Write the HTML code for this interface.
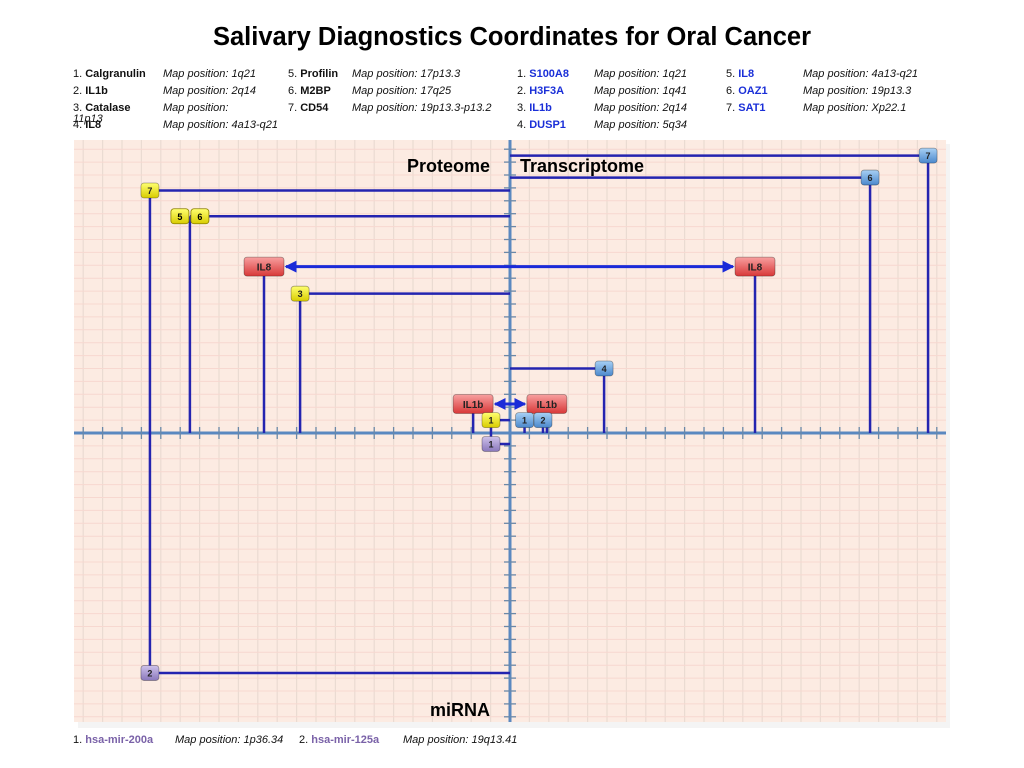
<!DOCTYPE html>
<html><head><meta charset="utf-8"><style>
body{margin:0;background:#fff;width:1024px;height:768px;overflow:hidden;font-family:"Liberation Sans",sans-serif;}
.t{position:absolute;font-size:11px;color:#111;white-space:nowrap;}
.i{font-style:italic;}
.b{font-weight:bold;}
.bl{color:#1a2fd8;font-weight:bold;}
.pu{color:#7a62a8;font-weight:bold;}
</style></head><body>
<div style="position:absolute;left:0;width:1024px;top:23px;text-align:center;font-size:25.5px;font-weight:bold;">Salivary Diagnostics Coordinates for Oral Cancer</div>
<div>
<div class="t" style="left:73px;top:68px">1. <span class="b">Calgranulin</span></div><div class="t i" style="left:163px;top:68px">Map position: 1q21</div>
<div class="t" style="left:73px;top:85px">2. <span class="b">IL1b</span></div><div class="t i" style="left:163px;top:85px">Map position: 2q14</div>
<div class="t" style="left:73px;top:102px">3. <span class="b">Catalase</span></div><div class="t i" style="left:163px;top:102px">Map position:</div>
<div class="t i" style="left:73px;top:113px">11p13</div>
<div class="t" style="left:73px;top:119px">4. <span class="b">IL8</span></div><div class="t i" style="left:163px;top:119px">Map position: 4a13-q21</div>
<div class="t" style="left:288px;top:68px">5. <span class="b">Profilin</span></div><div class="t i" style="left:352px;top:68px">Map position: 17p13.3</div>
<div class="t" style="left:288px;top:85px">6. <span class="b">M2BP</span></div><div class="t i" style="left:352px;top:85px">Map position: 17q25</div>
<div class="t" style="left:288px;top:102px">7. <span class="b">CD54</span></div><div class="t i" style="left:352px;top:102px">Map position: 19p13.3-p13.2</div>
</div>
<div>
<div class="t" style="left:517px;top:68px">1. <span class="bl">S100A8</span></div><div class="t i" style="left:594px;top:68px">Map position: 1q21</div>
<div class="t" style="left:517px;top:85px">2. <span class="bl">H3F3A</span></div><div class="t i" style="left:594px;top:85px">Map position: 1q41</div>
<div class="t" style="left:517px;top:102px">3. <span class="bl">IL1b</span></div><div class="t i" style="left:594px;top:102px">Map position: 2q14</div>
<div class="t" style="left:517px;top:119px">4. <span class="bl">DUSP1</span></div><div class="t i" style="left:594px;top:119px">Map position: 5q34</div>
<div class="t" style="left:726px;top:68px">5. <span class="bl">IL8</span></div><div class="t i" style="left:803px;top:68px">Map position: 4a13-q21</div>
<div class="t" style="left:726px;top:85px">6. <span class="bl">OAZ1</span></div><div class="t i" style="left:803px;top:85px">Map position: 19p13.3</div>
<div class="t" style="left:726px;top:102px">7. <span class="bl">SAT1</span></div><div class="t i" style="left:803px;top:102px">Map position: Xp22.1</div>
</div>
<div>
<div class="t" style="left:73px;top:734px">1. <span class="pu">hsa-mir-200a</span></div><div class="t i" style="left:175px;top:734px">Map position: 1p36.34</div>
<div class="t" style="left:299px;top:734px">2. <span class="pu">hsa-mir-125a</span></div><div class="t i" style="left:403px;top:734px">Map position: 19q13.41</div>
</div>
<svg id="chart" width="1024" height="768" style="position:absolute;left:0;top:0" xmlns="http://www.w3.org/2000/svg">
<defs>
<linearGradient id="gy" x1="0" y1="0" x2="0" y2="1"><stop offset="0" stop-color="#ffff70"/><stop offset="1" stop-color="#d8cc00"/></linearGradient>
<linearGradient id="gb" x1="0" y1="0" x2="0" y2="1"><stop offset="0" stop-color="#a8d0f4"/><stop offset="1" stop-color="#4a88cc"/></linearGradient>
<linearGradient id="gr" x1="0" y1="0" x2="0" y2="1"><stop offset="0" stop-color="#f8a0a0"/><stop offset="1" stop-color="#d83838"/></linearGradient>
<linearGradient id="gp" x1="0" y1="0" x2="0" y2="1"><stop offset="0" stop-color="#cfc2ea"/><stop offset="1" stop-color="#8a78bc"/></linearGradient>
<marker id="ah" markerWidth="4" markerHeight="4" refX="3.5" refY="2" orient="auto-start-reverse" markerUnits="strokeWidth"><path d="M0,0L4,2L0,4z" fill="#1a2ad8"/></marker>
</defs>
<rect x="78" y="144" width="872" height="584" fill="#ececec" opacity="0.6"/>
<rect x="74" y="140" width="872" height="582" fill="#fcebe2"/>
<g id="grid"></g><g id="axes"></g><g id="links"></g><g id="marks"></g>
<text x="490" y="172" text-anchor="end" font-size="18" font-weight="bold">Proteome</text>
<text x="520" y="172" font-size="18" font-weight="bold">Transcriptome</text>
<text x="490" y="716" text-anchor="end" font-size="18" font-weight="bold">miRNA</text>
</svg>
<script>
// data (x in x-units, y in y-units from the origin)
const proteomeLabels = ["7","5 6","IL8","3","IL1b","1"];
const proteomeX = [-18.56,-16.5,-12.68,-10.82,-1.9,-0.98];
const proteomeY = [18.8,16.8,12.9,10.8,2.25,1.0];
const transLabels = ["7","6","IL8","4","IL1b","1","2"];
const transX = [21.55,18.56,12.63,4.85,1.9,0.75,1.7];
const transY = [21.5,19.8,12.9,5.0,2.25,1.0,1.0];
const mirLabels = ["1","2"];
const mirX = [-0.98,-18.56];
const mirY = [-0.85,-18.6];
const sharedGenes = ["IL8","IL1b"];

const X0=510,Y0=433,UX=19.4,UY=12.9,L=74,R=946,T=140,B=722;
const sx=v=>X0+v*UX, sy=v=>Y0-v*UY;
const NS="http://www.w3.org/2000/svg";
function mk(tag,attrs,parent){const e=document.createElementNS(NS,tag);for(const k in attrs)e.setAttribute(k,attrs[k]);parent.appendChild(e);return e;}
const grid=document.getElementById('grid'),axes=document.getElementById('axes'),links=document.getElementById('links'),marks=document.getElementById('marks');
for(let k=-23;k<=23;k++){const x=sx(k);if(x<L||x>R)continue;const l=mk('line',{x1:x,x2:x,y1:T,y2:B,stroke:'#eadbd2','stroke-width':1.2},grid);}
for(let k=-25;k<=25;k++){const y=sy(k);if(y<T||y>B)continue;const l=mk('line',{x1:L,x2:R,y1:y,y2:y,stroke:'#f7d8d0','stroke-width':1},grid);}
const ax=mk('line',{x1:L,x2:R,y1:Y0,y2:Y0,stroke:'#5a88c0','stroke-width':3},axes);
const ay=mk('line',{x1:X0,x2:X0,y1:T,y2:B,stroke:'#5a88c0','stroke-width':3},axes);
for(let k=-23;k<=23;k++){const x=sx(k);if(x<L+5||x>R-5||k==0)continue;const t=mk('line',{x1:x,x2:x,y1:Y0-6,y2:Y0+6,stroke:'#6a88a8','stroke-width':1.3},axes);}
for(let k=-25;k<=25;k++){const y=sy(k);if(y<T+5||y>B-5||k==0)continue;const t=mk('line',{x1:X0-6,x2:X0+6,y1:y,y2:y,stroke:'#6a88a8','stroke-width':1.3},axes);}
const LC='#2424b0';
function link(x1,y1,x2,y2){const l=mk('line',{x1,y1,x2,y2,stroke:LC,'stroke-width':2.5},links);}
function box(cx,cy,label,fill,name){
  const big=label.length>2;const w=big?40:(label.length>1?38:18),h=big?19:15;
  const g=mk('g',{},marks);
  
  
  if(label==="5 6"){
    [["5",-10],["6",10]].forEach(([s,o])=>{mk('rect',{x:cx+o-9,y:cy-7.5,width:18,height:15,rx:3,fill,stroke:'#8a8000','stroke-width':0.8},g);const t=mk('text',{x:cx+o,y:cy+3.5,'text-anchor':'middle','font-size':9,'font-weight':'bold'},g);t.textContent=s;});
    return;}
  mk('rect',{x:cx-w/2,y:cy-h/2,width:w,height:h,rx:3,fill,stroke:'rgba(0,0,0,0.35)','stroke-width':0.8},g);
  const t=mk('text',{x:cx,y:cy+(big?4:3.5),'text-anchor':'middle','font-size':big?10:9,'font-weight':'bold',fill:'#222'},g);t.textContent=label;
}
proteomeX.forEach((v,i)=>{const x=sx(v),y=sy(proteomeY[i]);link(x,y,x,Y0);if(!sharedGenes.includes(proteomeLabels[i]))link(x,y,X0,y);});
transX.forEach((v,i)=>{const x=sx(v),y=sy(transY[i]);link(x,y,x,Y0);if(!sharedGenes.includes(transLabels[i])&&transLabels[i]!=="1"&&transLabels[i]!=="2")link(X0,y,x,y);});
mirX.forEach((v,i)=>{const x=sx(v),y=sy(mirY[i]);link(x,y,x,Y0);link(x,y,X0,y);});
sharedGenes.forEach(g=>{const pi=proteomeLabels.indexOf(g),ti=transLabels.indexOf(g);const y=sy(proteomeY[pi]);
  const a=mk('line',{x1:sx(proteomeX[pi])+22,y1:y,x2:sx(transX[ti])-22,y2:y,stroke:'#1a2ad8','stroke-width':3,'marker-start':'url(#ah)','marker-end':'url(#ah)'},links);
  });
proteomeX.forEach((v,i)=>{const l=proteomeLabels[i];box(sx(v),sy(proteomeY[i]),l,sharedGenes.includes(l)?'url(#gr)':'url(#gy)','proteome-marker');});
transX.forEach((v,i)=>{const l=transLabels[i];box(sx(v),sy(transY[i]),l,sharedGenes.includes(l)?'url(#gr)':'url(#gb)','transcriptome-marker');});
mirX.forEach((v,i)=>{box(sx(v),sy(mirY[i]),mirLabels[i],'url(#gp)','mirna-marker');});
</script>
</body></html>
